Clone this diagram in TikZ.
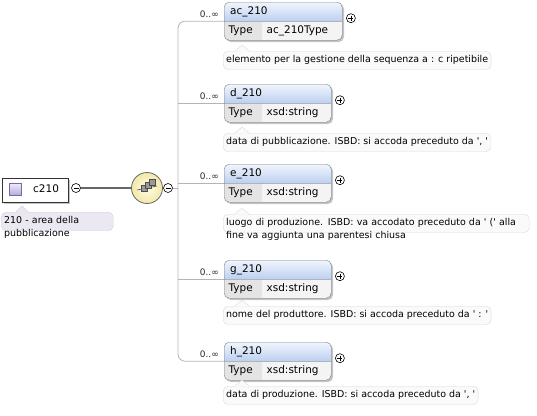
\documentclass[tikz,border=0pt]{standalone}
\usepackage{fontspec}
\setmainfont{DejaVu Sans}
\usetikzlibrary{positioning,calc}

\definecolor{boxline}{HTML}{7A8290}
\definecolor{shadowgray}{HTML}{C4C4C4}
\definecolor{hdtop}{HTML}{F2F6FD}
\definecolor{hdbot}{HTML}{BCD0F0}
\definecolor{typecell}{HTML}{E4E4E4}
\definecolor{valcell}{HTML}{F4F4F4}
\definecolor{docfill}{HTML}{FAFAFA}
\definecolor{docline}{HTML}{DADADA}
\definecolor{treegray}{HTML}{B4B4B4}
\definecolor{rootgray}{HTML}{666666}
\definecolor{rootfill}{HTML}{ECE8F2}
\definecolor{rootdocline}{HTML}{D4CCE0}
\definecolor{lilactop}{HTML}{EEE8FA}
\definecolor{lilacbot}{HTML}{B8A8DC}
\definecolor{lilacline}{HTML}{7868A8}
\definecolor{seqin}{HTML}{FFFDE6}
\definecolor{seqout}{HTML}{F2E8A8}

% straight quote, as printed in the annotations
\newcommand{\sq}{\textquotesingle}

\tikzset{
	elemframe/.style={
		draw=boxline,
		rounded corners=5bp,
		minimum height=38bp,
		inner sep=0pt,
		anchor=north west,
	},
	elemtext/.style={inner sep=0pt, anchor=west, font=\fontsize{10.5}{12}\selectfont, text height=7.5bp, text depth=2bp},
	doc/.style={
		draw=docline, fill=docfill,
		rounded corners=5bp,
		inner xsep=3bp, inner ysep=4.5bp,
		text height=7bp, text depth=2.5bp,
		anchor=north west, align=left,
		font=\fontsize{9.5}{13}\selectfont,
	},
	mult/.style={inner sep=0pt, font=\fontsize{9}{10}\selectfont, text=black!85},
	pm/.style={circle, draw=black, fill=white, minimum size=9bp, inner sep=0pt, line width=0.6bp},
	treeline/.style={draw=treegray, line width=0.8bp},
}

% one element box: #1 node name, #2 label, #3 type, #4 top, #5 width
\newcommand{\xsdelem}[5]{%
	\fill[shadowgray, rounded corners=5bp] (226,#4+2) rectangle ++(#5,38);
	\begin{scope}
		\clip[rounded corners=5bp] (224,#4) rectangle ++(#5,38);
		\shade[top color=hdtop, bottom color=hdbot] (224,#4) rectangle ++(#5,19);
		\fill[typecell] (224,#4+19) rectangle ++(38,19);
		\fill[valcell] (262,#4+19) rectangle ++(#5-38,19);
	\end{scope}
	\draw[boxline!60, line width=0.5bp] (224,#4+19) -- ++(#5,0);
	\node[elemframe, minimum width=#5 bp] (#1) at (224,#4) {};
	\node[elemtext] (#1name) at (230,#4+9.5) {#2};
	\node[elemtext] (#1type) at (228.5,#4+28.5) {Type};
	\node[elemtext] (#1val) at (266.5,#4+28.5) {#3};
	% plus sign and multiplicity
	\node[pm] (#1plus) at ($(#1.east)+(8.5,-3)$) {};
	\draw[line width=0.7bp] ($(#1plus)+(-2.5,0)$) -- ++(5,0) ($(#1plus)+(0,-2.5)$) -- ++(0,5);
	\node[mult, anchor=south east] (#1mult) at ($(#1.west)+(-5,-3)$) {0..∞};
}

% one annotation: #1 node name, #2 top, #3 options, #4 text
\newcommand{\xsdnote}[4]{%
	\node[doc, #3] (#1) at (223,#2) {#4};
	\fill[docfill] (235,#2+0.6) -- (242,#2-6) -- (249,#2+0.6) -- cycle;
	\draw[docline] (235,#2) -- (242,#2-6) -- (249,#2);
}

\begin{document}
\begin{tikzpicture}[x=1bp,y=-1bp]
	\useasboundingbox (0,0) rectangle (537,415);

	% root element
	\fill[shadowgray] (4,180) rectangle (70,204);
	\node[draw=black!80, fill=white, minimum width=66bp, minimum height=24bp, inner sep=0pt] (root) at (35,190) {};
	\node[draw=lilacline, top color=lilactop, bottom color=lilacbot, minimum size=12bp, inner sep=0pt] (rooticon) at (15.5,189.5) {};
	\node[elemtext] (rootname) at (33,190) {c210};

	% root annotation
	\node[doc, draw=rootdocline, fill=rootfill, text width=106bp] (rootnote) at (1,212) {210 - area della\\pubblicazione};
	\fill[rootfill] (16,212.6) -- (22,206) -- (28,212.6) -- cycle;
	\draw[rootdocline] (16,212) -- (22,206) -- (28,212);

	% sequence compositor
	\node[pm] (rootminus) at (76,188) {};
	\draw[line width=0.7bp] ($(rootminus)+(-2.5,0)$) -- ++(5,0);
	\node[circle, draw=rootgray, inner color=seqin, outer color=seqout, minimum size=31bp, line width=0.8bp] (seq) at (147,188) {};
	\draw[rootgray, line width=1.4bp] (rootminus.east) -- (seq.west);
	% sequence icon
	\draw[black!70, line width=0.6bp] (137,190) -- (157,186);
	\foreach \dx/\dy in {141/191, 145/188, 149/185}
		\draw[black!70, fill=black!40, line width=0.5bp] (\dx,\dy) rectangle ++(6,-6);
	\node[pm] (seqminus) at (168,188) {};
	\draw[line width=0.7bp] ($(seqminus)+(-2.5,0)$) -- ++(5,0);

	% children
	\xsdelem{ac}{ac\_210}{ac\_210Type}{2}{118}
	\xsdelem{d}{d\_210}{xsd:string}{84}{107}
	\xsdelem{e}{e\_210}{xsd:string}{164}{107}
	\xsdelem{g}{g\_210}{xsd:string}{260}{107}
	\xsdelem{h}{h\_210}{xsd:string}{342}{107}

	% annotations
	\xsdnote{acnote}{51}{}{elemento per la gestione della sequenza a : c ripetibile}
	\xsdnote{dnote}{133}{}{data di pubblicazione. ISBD: si accoda preceduto da \sq, \sq}
	\xsdnote{enote}{214}{text width=300bp}{luogo di produzione. ISBD: va accodato preceduto da \sq\ (\sq\ alla\\fine va aggiunta una parentesi chiusa}
	\xsdnote{gnote}{306}{}{nome del produttore. ISBD: si accoda preceduto da \sq\ : \sq}
	\xsdnote{hnote}{386}{}{data di produzione. ISBD: si accoda preceduto da \sq, \sq}

	% tree connectors
	\coordinate (trunk) at (178,188);
	\draw[treeline, rounded corners=7bp] (ac.west) -| (trunk) |- (h.west);
	\draw[treeline] (seqminus.east) -- (trunk);
	\foreach \e in {d,e,g}
		\draw[treeline] (trunk |- \e.west) -- (\e.west);

\end{tikzpicture}
\end{document}
